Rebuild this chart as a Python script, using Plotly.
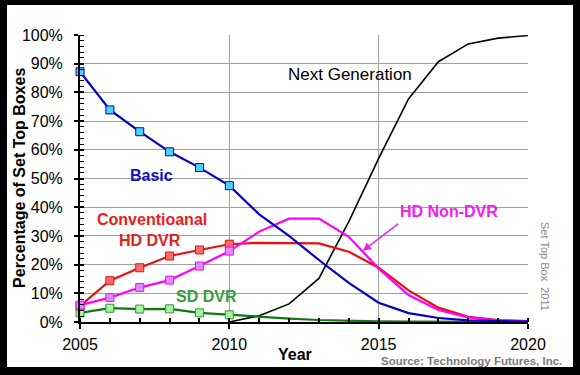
import plotly.graph_objects as go

years = list(range(2005, 2021))
basic = [87.2, 73.9, 66.3, 59.3, 53.8, 47.5, 37.5, 30.0, 21.6, 13.6, 6.7, 3.1, 1.4, 0.6, 0.3, 0.1]
conv_hd_dvr = [5.6, 14.4, 18.9, 23.0, 25.1, 27.1, 27.6, 27.6, 27.4, 24.5, 18.9, 11.0, 5.0, 1.8, 0.7, 0.3]
hd_non_dvr = [5.9, 8.5, 12.0, 14.6, 19.5, 24.7, 31.5, 36.0, 36.0, 29.7, 18.6, 9.4, 4.2, 1.6, 0.5, 0.2]
sd_dvr = [3.2, 4.8, 4.5, 4.6, 3.2, 2.5, 1.7, 1.2, 0.7, 0.4, 0.2, 0.1, 0.05, 0.05, 0.05, 0.05]
next_gen_years = list(range(2010, 2021))
next_gen = [0.0, 2.2, 6.3, 15.2, 35.0, 57.0, 77.7, 90.7, 96.9, 98.9, 99.8]
n_hist = 6  # years 2005-2010 carry markers

FONT = "Liberation Sans, Arial, sans-serif"

series = [
    ("SD DVR", sd_dvr, "#0E7A0E", "#A8F0A8", "#2E9A2E"),
    ("Conventional HD DVR", conv_hd_dvr, "#E81010", "#FF6E6E", "#E81010"),
    ("HD Non-DVR", hd_non_dvr, "#FF00FF", "#DD8CFF", "#FF00FF"),
    ("Basic", basic, "#0000CC", "#4CD2FF", "#0000CC"),
]

fig = go.Figure()
fig.add_trace(go.Scatter(x=next_gen_years, y=next_gen, mode="lines",
                         line=dict(color="black", width=1.6), hoverinfo="skip",
                         showlegend=False))
for name, vals, lc, fc, ec in series:
    fig.add_trace(go.Scatter(x=years, y=vals, mode="lines", name=name,
                             line=dict(color=lc, width=2.2), showlegend=False))
for name, vals, lc, fc, ec in series:
    fig.add_trace(go.Scatter(x=years[:n_hist], y=vals[:n_hist], mode="markers",
                             marker=dict(symbol="square", size=8, color=fc,
                                         line=dict(color=ec, width=1)),
                             cliponaxis=False, showlegend=False))
# helper trace for overlay tick axes
fig.add_trace(go.Scatter(x=[2005], y=[0], mode="markers", marker=dict(opacity=0),
                         xaxis="x2", yaxis="y2", hoverinfo="skip", showlegend=False))

fig.add_shape(type="rect", xref="paper", yref="paper", x0=-0.163, x1=1.1004,
              y0=-0.1568, y1=1.1045, fillcolor="white", line=dict(width=0), layer="below")

ann = []
def txt(s, x, y, color, size=16, bold=True, xref="x", yref="y", angle=0):
    ann.append(dict(text=f"<b>{s}</b>" if bold else s, x=x, y=y, xref=xref, yref=yref,
                    xanchor="center", yanchor="middle",
                    showarrow=False, textangle=angle,
                    font=dict(family=FONT, size=size, color=color)))

txt("Next Generation", 2014.05, 86.1, "black", size=17, bold=False)
txt("Basic", 2007.38, 51.2, "#1010C8")
txt("Conventioanal", 2007.4, 35.8, "#E82020")
txt("HD DVR", 2007.34, 28.3, "#E82020")
txt("SD DVR", 2009.24, 8.8, "#3A9A3A")
txt("HD Non-DVR", 2017.34, 38.4, "#F020F0")
txt("Percentage of Set Top Boxes", -0.134, 0.502, "black", xref="paper", yref="paper", angle=-90)
txt("Year", 0.479, -0.1115, "black", xref="paper", yref="paper")
txt("Source: Technology Futures, Inc.", 0.874, -0.136, "#7A7A7A", size=11.5,
    xref="paper", yref="paper")
txt("Set Top Box  2011", 1.038, 0.195, "#8A8A8A", size=11, bold=False,
    xref="paper", yref="paper", angle=90)
ann.append(dict(text="", x=2014.47, y=24.8, ax=2015.7, ay=34.6, axref="x", ayref="y",
                xref="x", yref="y", showarrow=True, arrowhead=2, arrowsize=1.1,
                arrowwidth=1.5, arrowcolor="#F020F0", standoff=0))

fig.update_layout(
    width=580, height=375,
    margin=dict(l=80, r=52, t=35, b=53),
    paper_bgcolor="black", plot_bgcolor="white",
    font=dict(family=FONT, size=16, color="black"),
    annotations=ann,
    xaxis=dict(range=[2005, 2020], tick0=2005, dtick=5, showgrid=True,
               gridcolor="#A0A0A0", gridwidth=1, showline=True, linecolor="black",
               linewidth=2, ticks="outside", ticklen=5, tickwidth=2, tickcolor="black",
               minor=dict(dtick=1, ticks="inside", ticklen=4, tickwidth=1.5,
                          tickcolor="black", showgrid=False),
               zeroline=False, ticklabelstandoff=2,
               tickfont=dict(family=FONT, size=16, color="black")),
    yaxis=dict(range=[0, 100], dtick=10, ticksuffix="%", showgrid=True,
               gridcolor="#A0A0A0", gridwidth=1, showline=True, linecolor="black",
               linewidth=2, ticks="outside", ticklen=4, tickwidth=1.5, tickcolor="black",
               minor=dict(dtick=2, ticks="inside", ticklen=4, tickwidth=1,
                          tickcolor="black", showgrid=False),
               zeroline=False, ticklabelstandoff=8,
               tickfont=dict(family=FONT, size=16, color="black")),
    xaxis2=dict(overlaying="x", matches="x", anchor="y", showgrid=False, showline=False,
                ticks="inside", ticklen=4, tickwidth=2, tickcolor="black", dtick=5,
                tick0=2005, showticklabels=False, zeroline=False),
    yaxis2=dict(overlaying="y", matches="y", anchor="x", showgrid=False, showline=False,
                ticks="inside", ticklen=4, tickwidth=1.5, tickcolor="black", dtick=10,
                showticklabels=False, zeroline=False),
)

fig.write_html("out.html", config={"displayModeBar": False},
               post_script="document.body.style.margin='0';")
